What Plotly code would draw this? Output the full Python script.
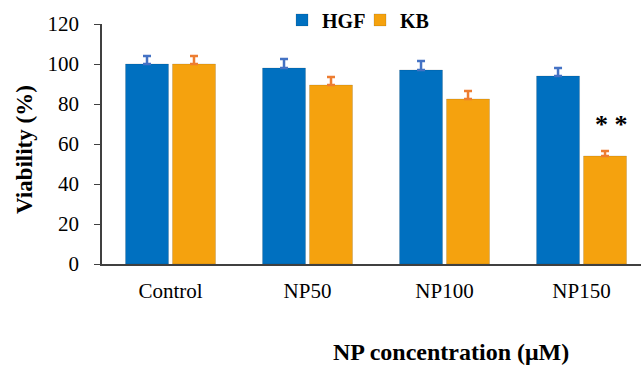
import plotly.graph_objects as go

categories = ["Control", "NP50", "NP100", "NP150"]
hgf_values = [100, 98, 97, 94]
hgf_errors = [4, 4.5, 4.5, 4]
kb_values = [100, 89.5, 82.5, 54]
kb_errors = [4, 4, 4, 2.5]
y_ticks = [0, 20, 40, 60, 80, 100, 120]

SERIF = "Liberation Serif"

fig = go.Figure()
fig.add_trace(go.Bar(
    name="HGF", x=categories, y=hgf_values,
    marker=dict(color="#0070C0", line=dict(color="rgba(0,0,0,0.12)", width=1)),
    error_y=dict(type="data", symmetric=False, array=hgf_errors,
                 arrayminus=[0] * len(hgf_errors), color="#4472C4",
                 thickness=2.5, width=4),
))
fig.add_trace(go.Bar(
    name="KB", x=categories, y=kb_values,
    marker=dict(color="#F5A20E", line=dict(color="rgba(0,0,0,0.12)", width=1)),
    error_y=dict(type="data", symmetric=False, array=kb_errors,
                 arrayminus=[0] * len(kb_errors), color="#ED7D31",
                 thickness=2.5, width=4),
))

fig.update_layout(
    width=641, height=365,
    margin=dict(l=102, r=0, t=24, b=101),
    paper_bgcolor="white", plot_bgcolor="white",
    barmode="group", bargap=0.314, bargroupgap=0.085,
    font=dict(family=SERIF, color="black", size=21),
    showlegend=True,
    legend=dict(orientation="h", x=0.334, xanchor="left", y=1.017, yanchor="middle",
                font=dict(family=SERIF, size=20, color="black", weight="bold"),
                bgcolor="rgba(0,0,0,0)", itemwidth=30, tracegroupgap=0,
                entrywidth=33, entrywidthmode="pixels"),
)
fig.update_xaxes(
    range=[-0.5, 3.434], showline=True, linecolor="#404040", linewidth=1.5,
    ticks="", showgrid=False, tickfont=dict(size=21, family=SERIF, color="black"),
    ticklabelstandoff=7,
)
fig.update_yaxes(
    range=[0, 120], tickvals=y_ticks, showline=True, linecolor="#404040",
    linewidth=1.5, ticks="outside", ticklen=6, tickcolor="#404040",
    showgrid=False, zeroline=False, ticklabelstandoff=11,
    tickfont=dict(size=21, family=SERIF, color="black"),
)

fig.add_annotation(text="<b>Viability (%)</b>", textangle=-90, xref="paper", yref="paper",
                   x=-0.1447, y=0.475, xanchor="center", yanchor="middle", showarrow=False,
                   font=dict(family=SERIF, size=23, color="black"))
fig.add_annotation(text="<b>NP concentration (μM)</b>", xref="paper", yref="paper",
                   x=0.6475, y=-0.365, xanchor="center", yanchor="middle", showarrow=False,
                   font=dict(family=SERIF, size=24, color="black"))
fig.add_annotation(text="<b>* *</b>", xref="x", yref="y", x=3.22, y=70,
                   showarrow=False, font=dict(family=SERIF, size=26, color="black"))

fig.write_html("out.html")
